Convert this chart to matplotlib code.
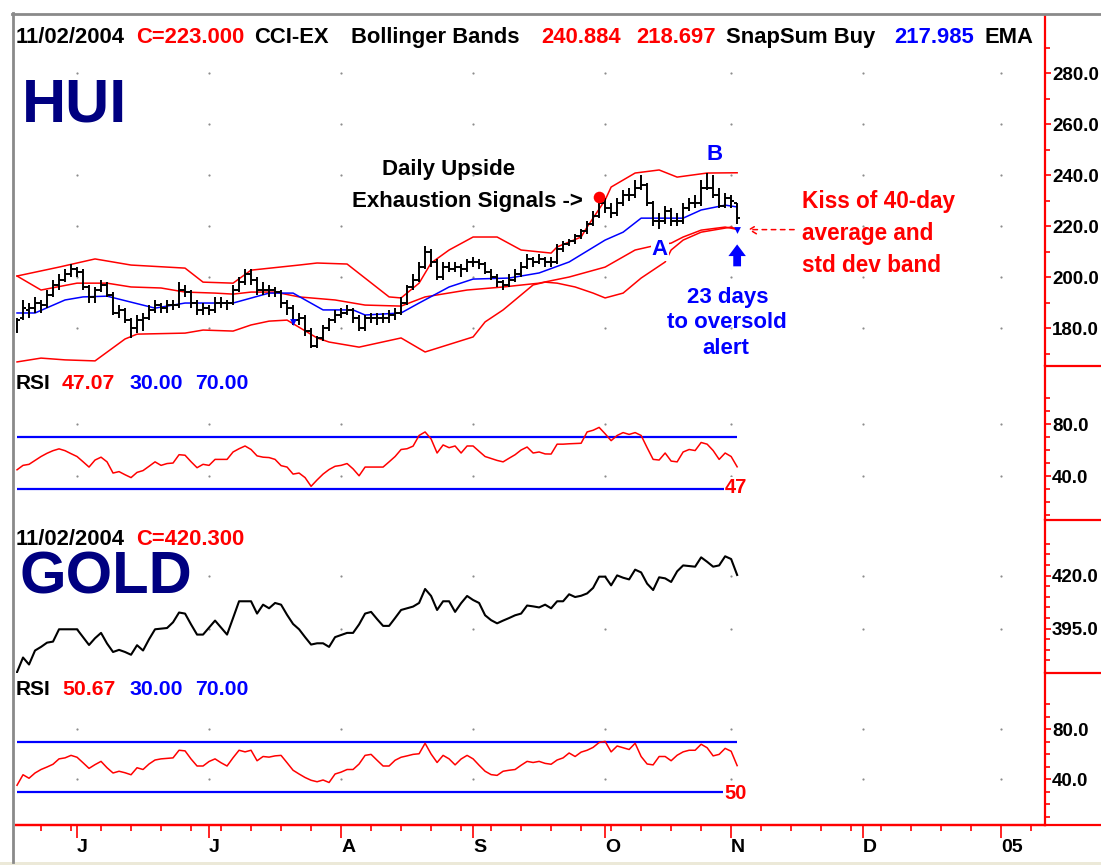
import numpy as np
import matplotlib
matplotlib.use("Agg")
import matplotlib.pyplot as plt
from matplotlib.lines import Line2D
from matplotlib.patches import Rectangle

plt.rcParams["font.family"] = ["Liberation Sans", "DejaVu Sans"]

W, H = 1101, 865

# trading-day index 0 = 18 May 2004, last bar (120) = 2 Nov 2004
hui_open = [179, 184, 187, 188, 190, 189, 193, 197, 199, 201,
            203, 202, 196, 192, 195, 197, 193, 186, 187, 183,
            180, 183, 184, 187, 189, 188, 189, 189, 195, 194,
            190, 187, 188, 187, 190, 190, 190, 195, 198, 201,
            199, 195, 195, 195, 194, 190, 188, 183, 184, 179,
            173, 176, 180, 183, 185, 186, 187, 184, 180, 184,
            184, 184, 184, 185, 186, 190, 196, 199, 204, 210,
            206, 200, 204, 203, 204, 203, 206, 206, 205, 202,
            200, 198, 197, 199, 201, 204, 207, 206, 207, 206,
            206, 211, 213, 214, 216, 218, 221, 224, 229, 227,
            225, 229, 232, 232, 235, 236, 229, 222, 222, 226,
            222, 222, 227, 229, 229, 235, 235, 232, 228, 231,
            229]
hui_high = [184, 191, 190, 192, 191, 195, 199, 201, 203, 205,
            204, 203, 197, 196, 199, 198, 194, 189, 188, 184,
            185, 186, 189, 191, 190, 191, 191, 198, 197, 195,
            191, 190, 189, 192, 192, 191, 197, 200, 203, 203,
            200, 198, 197, 196, 195, 191, 189, 186, 185, 180,
            177, 181, 184, 187, 188, 189, 188, 185, 185, 186,
            186, 186, 187, 188, 192, 197, 201, 206, 212, 211,
            207, 206, 206, 206, 205, 207, 208, 207, 206, 203,
            201, 199, 201, 203, 206, 209, 208, 209, 208, 208,
            213, 214, 215, 217, 219, 222, 226, 232, 231, 229,
            231, 234, 235, 238, 240, 237, 230, 225, 228, 227,
            225, 229, 231, 232, 238, 241, 240, 235, 233, 232,
            229]
hui_low = [178, 183, 184, 186, 186, 188, 192, 195, 198, 200,
           200, 195, 190, 190, 194, 192, 185, 184, 182, 176,
           178, 179, 183, 186, 186, 186, 187, 188, 192, 188,
           185, 185, 185, 186, 188, 187, 189, 194, 197, 197,
           193, 193, 192, 192, 188, 185, 181, 181, 177, 172,
           172, 175, 179, 182, 184, 185, 182, 179, 179, 182,
           181, 182, 182, 183, 185, 189, 195, 198, 203, 204,
           199, 199, 202, 202, 200, 202, 204, 203, 201, 199,
           196, 195, 196, 198, 200, 203, 204, 205, 204, 204,
           205, 210, 212, 213, 215, 217, 220, 223, 225, 223,
           224, 228, 230, 231, 234, 228, 220, 219, 221, 220,
           220, 221, 226, 227, 228, 234, 231, 227, 227, 227,
           221]
hui_close = [183, 188, 188, 190, 189, 193, 197, 199, 201, 203,
             202, 196, 192, 195, 197, 193, 186, 187, 183, 180,
             183, 184, 187, 189, 188, 189, 189, 195, 194, 190,
             187, 188, 187, 190, 190, 190, 195, 198, 201, 199,
             195, 195, 195, 194, 190, 188, 183, 184, 179, 173,
             176, 180, 183, 185, 186, 187, 184, 180, 184, 184,
             184, 184, 185, 186, 190, 196, 199, 204, 210, 206,
             200, 204, 203, 204, 203, 206, 206, 205, 202, 200,
             198, 197, 199, 201, 204, 207, 206, 207, 206, 206,
             211, 213, 214, 216, 218, 221, 224, 229, 227, 225,
             229, 232, 232, 235, 236, 229, 222, 222, 226, 222,
             222, 227, 229, 229, 235, 235, 232, 228, 231, 230,
             223]

# band / average lines, read at their bends
upper_idx = [0, 7, 13, 19, 28, 31, 36, 39, 47, 50, 55, 62, 64, 67, 69, 72, 76, 80,
             84, 89, 90, 94, 95, 98, 99, 103, 107, 110, 115, 120]
upper_band = [200.4, 203.9, 207.1, 204.7, 203.5, 198.0, 197.6, 202.7, 204.7, 205.5,
              205.1, 192.2, 191.8, 197.6, 205.5, 210.6, 215.7, 215.7, 210.6, 209.4,
              211.8, 215.7, 219.6, 230.2, 235.3, 240.8, 242.0, 239.2, 240.8, 240.9]
sma_idx = [0, 4, 10, 15, 19, 24, 28, 33, 36, 39, 43, 47, 53, 58, 64, 68, 75, 81,
           87, 92, 98, 103, 106, 109, 111, 114, 118, 120]
sma40 = [200.4, 194.9, 197.6, 197.6, 196.1, 195.7, 194.1, 193.7, 193.3, 194.1,
         194.1, 192.2, 191.0, 189.0, 188.6, 192.2, 194.9, 196.1, 197.6, 200.0,
         203.9, 210.6, 212.2, 213.3, 215.7, 218.4, 219.6, 218.7]
lower_idx = [0, 4, 8, 13, 18, 20, 28, 31, 36, 39, 42, 45, 50, 52, 57, 64, 68, 76,
             78, 81, 86, 88, 90, 93, 96, 98, 101, 104, 108, 109, 111, 114, 119, 120]
lower_band = [166.7, 168.2, 167.5, 167.1, 175.7, 177.6, 178.0, 179.2, 178.8, 181.2,
              182.7, 183.1, 176.1, 174.5, 172.5, 176.1, 170.6, 176.5, 182.4, 187.1,
              196.9, 198.0, 197.6, 196.1, 193.7, 191.8, 193.7, 199.6, 205.9, 210.6,
              214.5, 217.6, 219.6, 218.7]
ema_idx = [0, 3, 8, 11, 15, 23, 28, 36, 42, 46, 51, 56, 58, 64, 67, 72, 76, 82,
           87, 92, 98, 101, 104, 111, 114, 118, 120]
ema = [185.9, 185.9, 191.0, 192.2, 192.5, 187.8, 189.8, 189.8, 193.7, 193.7,
       187.1, 187.1, 185.1, 185.9, 189.8, 196.1, 199.2, 199.6, 201.6, 205.9,
       214.5, 217.6, 223.1, 223.1, 226.3, 228.2, 227.5]

signal_idx = [97]
signal_val = [231.5]
buy_idx = [46, 120]
buy_val = [182.4, 218.6]

hui_rsi = [44.8, 48.2, 49.0, 52.0, 55.0, 57.5, 59.5, 60.9, 59.5, 57.2,
           55.0, 51.0, 46.9, 52.3, 54.5, 50.9, 42.3, 43.4, 41.0, 38.8,
           42.8, 44.2, 47.5, 50.9, 48.2, 49.6, 50.0, 56.4, 56.0, 51.0,
           46.4, 49.0, 48.2, 52.8, 52.8, 52.8, 58.5, 61.0, 63.1, 60.4,
           55.5, 54.5, 54.2, 52.8, 48.0, 46.9, 41.5, 42.3, 38.8, 32.1,
           37.0, 41.5, 45.0, 47.5, 48.2, 49.6, 45.5, 40.2, 46.9, 46.9,
           46.9, 46.9, 50.9, 55.0, 60.4, 61.0, 63.0, 71.2, 73.9, 68.5,
           57.7, 63.9, 61.8, 63.1, 57.7, 63.1, 63.1, 59.0, 55.0, 53.5,
           52.0, 50.9, 53.7, 56.4, 60.0, 62.3, 57.7, 58.5, 57.0, 56.9,
           64.5, 64.5, 64.8, 65.0, 65.2, 73.9, 75.2, 77.4, 72.5, 67.2,
           71.2, 73.4, 72.0, 73.4, 71.2, 61.8, 52.8, 52.3, 57.7, 51.5,
           50.9, 58.5, 60.4, 59.6, 65.8, 64.5, 59.6, 52.8, 57.7, 55.0,
           47.1]

gold_close = [374.5, 381.4, 378.1, 384.7, 386.4, 388.4, 388.9, 394.7, 394.7, 394.7,
              394.7, 391.0, 387.3, 390.5, 393.0, 388.0, 384.0, 385.0, 384.0, 382.7,
              387.2, 384.7, 390.0, 394.7, 395.0, 395.3, 398.0, 402.6, 402.1, 397.0,
              392.2, 392.2, 395.5, 398.8, 395.5, 392.2, 400.0, 407.9, 407.9, 407.9,
              402.1, 406.3, 404.6, 407.1, 406.3, 401.5, 397.2, 394.7, 391.0, 387.5,
              388.1, 388.1, 386.4, 391.0, 392.0, 393.0, 393.0, 397.0, 402.1, 402.9,
              399.5, 396.3, 396.3, 400.0, 403.8, 404.6, 405.4, 407.1, 413.7, 410.4,
              403.8, 407.9, 407.9, 402.9, 407.0, 410.4, 408.5, 407.1, 401.3, 399.0,
              397.5, 398.8, 400.0, 401.3, 402.1, 405.9, 405.5, 405.0, 406.3, 404.6,
              407.9, 407.9, 411.2, 409.9, 410.5, 411.6, 414.2, 419.5, 419.5, 415.4,
              420.1, 419.0, 418.2, 422.8, 421.5, 416.2, 413.2, 419.2, 418.7, 417.0,
              422.0, 424.8, 424.5, 424.2, 428.6, 426.5, 424.2, 424.8, 429.1, 427.8,
              420.3]

gold_rsi = [35.0, 43.4, 40.6, 44.8, 47.6, 49.6, 51.8, 56.1, 56.9, 58.9,
            57.4, 53.0, 48.5, 51.5, 54.1, 49.0, 44.8, 46.2, 45.0, 43.4,
            49.0, 47.6, 52.0, 55.2, 56.1, 56.5, 56.9, 63.0, 62.5, 56.0,
            50.4, 50.4, 54.0, 56.1, 53.0, 50.4, 57.0, 63.0, 61.7, 63.0,
            54.6, 58.0, 57.5, 58.5, 58.9, 53.0, 47.0, 44.0, 41.2, 39.0,
            37.8, 39.2, 37.2, 44.0, 45.5, 47.6, 47.6, 52.0, 58.9, 59.7,
            55.0, 50.4, 50.4, 55.0, 57.4, 58.5, 59.7, 60.2, 68.6, 60.0,
            53.2, 58.9, 56.1, 51.3, 56.0, 58.9, 56.1, 51.0, 46.2, 43.5,
            42.9, 46.2, 47.0, 47.6, 51.0, 54.1, 53.2, 54.1, 52.5, 51.8,
            55.2, 56.9, 60.8, 58.0, 61.5, 63.0, 65.3, 69.2, 70.1, 61.7,
            66.4, 65.0, 63.6, 68.6, 58.0, 52.0, 51.3, 58.0, 58.0, 54.6,
            59.0, 61.7, 63.0, 63.0, 67.8, 65.0, 58.5, 59.7, 64.5, 62.2,
            50.7]

rsi_levels = [30, 70]
month_idx = [10, 32, 54, 76, 98, 119, 141, 164]
month_labels = ["J", "J", "A", "S", "O", "N", "D", "05"]
week_idx = list(range(4, 171, 5))


def fx(x):
    return x / W


def fy(y):
    return 1 - y / H


LEFT, RIGHT = 16, 1045
XLIM = (-0.17, 171.3)

fig = plt.figure(figsize=(W / 100, H / 100), dpi=100)


def make_axes(top, bottom):
    return fig.add_axes([fx(LEFT), fy(bottom), (RIGHT - LEFT) / W, (bottom - top) / H])


def style_panel(ax, ylim, majors, minors):
    ax.set_xlim(*XLIM)
    ax.set_ylim(*ylim)
    for side in ("left", "top", "bottom"):
        ax.spines[side].set_visible(False)
    ax.spines["right"].set_color("red")
    ax.spines["right"].set_linewidth(1.6)
    ax.yaxis.tick_right()
    ax.set_yticks(majors)
    # the price scale is cut by the window edge, only "280.0" shows
    ax.set_yticklabels([f"{v:.1f}" for v in majors], fontsize=13.5, fontweight="bold")
    ax.set_yticks(minors, minor=True)
    ax.tick_params(axis="y", which="both", direction="out", color="red", width=1.2,
                   labelcolor="black")
    ax.tick_params(axis="y", which="major", length=4.5, pad=0.6)
    ax.tick_params(axis="y", which="minor", length=3.5)
    ax.set_xticks([])
    # dotted grid: one dot at each month / labelled level crossing
    gx, gy = np.meshgrid(month_idx, majors)
    ax.scatter(gx.ravel(), gy.ravel(), s=2.5, color="#8c8c8c", linewidths=0, zorder=0.5)


ax_hui = make_axes(16, 366)
ax_rsi1 = make_axes(366, 520)
ax_gold = make_axes(520, 673)
ax_rsi2 = make_axes(673, 825)

style_panel(ax_hui, (165.1, 302.4), [180, 200, 220, 240, 260, 280], list(range(170, 300, 10)))
style_panel(ax_rsi1, (6.2, 124.6), [40, 80], list(range(10, 110, 10)))
style_panel(ax_gold, (374.1, 446.2), [395, 420], list(range(380, 440, 5)))
style_panel(ax_rsi2, (3.2, 124.8), [40, 80], list(range(10, 110, 10)))

days = np.arange(len(hui_close))

# HUI bars, bands and averages
ax_hui.plot(upper_idx, upper_band, color="red", lw=1.1, zorder=2)
ax_hui.plot(sma_idx, sma40, color="red", lw=1.1, zorder=2)
ax_hui.plot(lower_idx, lower_band, color="red", lw=1.1, zorder=2)
ax_hui.plot(ema_idx, ema, color="blue", lw=1.1, zorder=2)
ax_hui.vlines(days, hui_low, hui_high, color="black", lw=1.4, zorder=3)
ax_hui.hlines(hui_open, days - 0.45, days, color="black", lw=1.4, zorder=3)
ax_hui.hlines(hui_close, days, days + 0.45, color="black", lw=1.4, zorder=3)
ax_hui.scatter(signal_idx, signal_val, s=70, color="red", linewidths=0, zorder=4)
ax_hui.scatter(buy_idx, buy_val, marker="v", s=24, color="blue", linewidths=0, zorder=4)

ax_hui.annotate("", xy=(120, 212.8), xytext=(120, 204.2),
                arrowprops=dict(arrowstyle="simple,head_length=0.6,head_width=0.9,tail_width=0.4",
                                color="blue", lw=0, mutation_scale=14, shrinkA=0, shrinkB=0))
ax_hui.annotate("", xy=(121.8, 218.6), xytext=(129.5, 218.6), annotation_clip=False,
                arrowprops=dict(arrowstyle="->,head_length=0.5,head_width=0.3", color="red",
                                lw=1.1, linestyle=(0, (3, 3)), shrinkA=0, shrinkB=0))

# RSI panels
for ax, rsi in ((ax_rsi1, hui_rsi), (ax_rsi2, gold_rsi)):
    ax.hlines(rsi_levels, 0, days[-1], color="blue", lw=1.6, zorder=2)
    ax.plot(days, rsi, color="red", lw=1.1, zorder=3)

# gold line
ax_gold.plot(days, gold_close, color="black", lw=1.5, zorder=3)

# bottom date axis
ax_rsi2.spines["bottom"].set_visible(True)
ax_rsi2.spines["bottom"].set_color("red")
ax_rsi2.spines["bottom"].set_linewidth(1.6)
ax_rsi2.set_xticks(month_idx)
ax_rsi2.set_xticklabels(month_labels, fontsize=14, fontweight="bold")
ax_rsi2.set_xticks(week_idx, minor=True)
ax_rsi2.tick_params(axis="x", which="both", direction="out", color="red", width=1.2)
ax_rsi2.tick_params(axis="x", which="major", length=9.5, pad=0.5)
ax_rsi2.tick_params(axis="x", which="minor", length=4)
for lbl in ax_rsi2.get_xticklabels():
    lbl.set_horizontalalignment("left")


def label(x, y, s, color="black", size=16, ha="left", bg=False, **kw):
    box = dict(facecolor="white", edgecolor="none", pad=1) if bg else None
    fig.text(fx(x), fy(y), s, color=color, fontsize=size, fontweight="bold",
             ha=ha, va="baseline", bbox=box, **kw)


# title rows
header = [(16, "11/02/2004", "black"), (136, "C=223.000", "red"), (254, "CCI-EX", "black"),
          (351, "Bollinger Bands", "black"), (541, "240.884", "red"), (636, "218.697", "red"),
          (726, "SnapSum Buy", "black"), (894, "217.985", "blue"), (984, "EMA", "black")]
for x, s, c in header:
    label(x, 43, s, c, size=15.8)
label(16, 545, "11/02/2004", size=15.8)
label(136, 545, "C=420.300", "red", size=15.8)

for y, val in ((389, "47.07"), (695, "50.67")):
    label(16, y, "RSI", size=15)
    label(62, y, val, "red", size=15.3)
    label(129, y, "30.00", "blue", size=15.3)
    label(195, y, "70.00", "blue", size=15.3)

label(22, 121, "HUI", "#000080", size=44, bg=True)
label(20, 594, "GOLD", "#000080", size=43, bg=True)

# annotations
label(382, 175, "Daily Upside")
label(352, 207, "Exhaustion Signals ->")
label(707, 160, "B", "blue")
label(660, 255, "A", "blue", ha="center", bg=True)
label(802, 208, "Kiss of 40-day", "red", size=16.3)
label(802, 240, "average and", "red", size=16.3)
label(802, 272, "std dev band", "red", size=16.3)
label(728, 303, "23 days", "blue", ha="center")
label(727, 328, "to oversold", "blue", ha="center")
label(726, 354, "alert", "blue", ha="center")
label(725, 493, "47", "red", size=14.5, bg=True)
label(724, 799, "50", "red", size=14.5, bg=True)


def hline_px(y, x0, x1, **kw):
    fig.add_artist(Line2D([fx(x0), fx(x1)], [fy(y), fy(y)], transform=fig.transFigure, **kw))


def vline_px(x, y0, y1, **kw):
    fig.add_artist(Line2D([fx(x), fx(x)], [fy(y0), fy(y1)], transform=fig.transFigure, **kw))


# panel separators on the price scale and the date-axis extension
for y in (366, 520, 673, 825):
    hline_px(y, RIGHT, W, color="red", lw=1.6)
hline_px(825, LEFT, RIGHT, color="red", lw=1.6)

# window frame
vline_px(13, 13, 862, color="#8a8a8a", lw=2)
hline_px(13.5, 12, W, color="#8a8a8a", lw=2)
fig.add_artist(Rectangle((0, 0), 1, 3 / H, transform=fig.transFigure, color="#ece9d8", lw=0))

fig.savefig("out.png", dpi=100)
